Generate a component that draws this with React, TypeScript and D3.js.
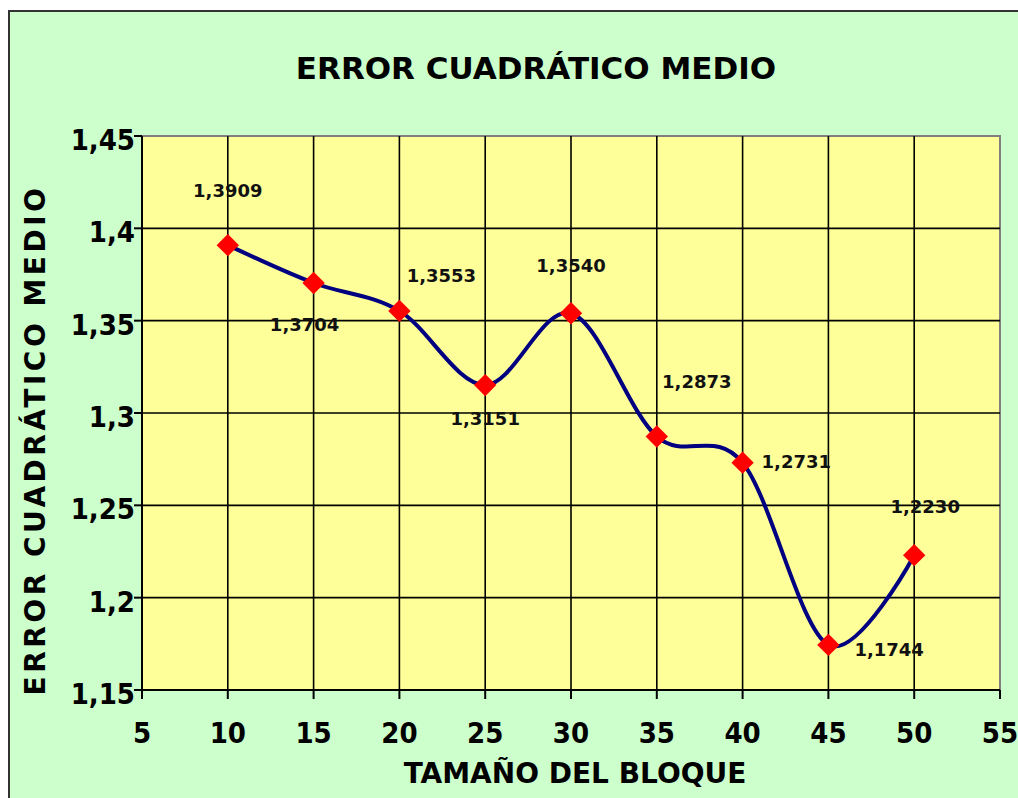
import React from 'react';
import * as d3 from 'd3';

// block size vs. mean squared error
const blockSizes = [10, 15, 20, 25, 30, 35, 40, 45, 50];
const mseValues = [1.3909, 1.3704, 1.3553, 1.3151, 1.354, 1.2873, 1.2731, 1.1744, 1.223];
const pointLabels = ['1,3909', '1,3704', '1,3553', '1,3151', '1,3540', '1,2873', '1,2731', '1,1744', '1,2230'];
const xTicks = [5, 10, 15, 20, 25, 30, 35, 40, 45, 50, 55];
const yTicks = [1.15, 1.2, 1.25, 1.3, 1.35, 1.4, 1.45];
const yTickLabels = ['1,15', '1,2', '1,25', '1,3', '1,35', '1,4', '1,45'];

// where Excel put each data label, relative to its point (dx, dy, anchor)
const labelPlacement: [number, number, string][] = [
    [0, -55, 'middle'],
    [-9, 42, 'middle'],
    [42, -35, 'middle'],
    [0, 33, 'middle'],
    [0, -48, 'middle'],
    [40, -55, 'middle'],
    [19, -1, 'start'],
    [26, 5, 'start'],
    [11, -49, 'middle'],
];

const title = 'ERROR CUADRÁTICO MEDIO';
const xTitle = 'TAMAÑO DEL BLOQUE';
const yTitle = 'ERROR CUADRÁTICO MEDIO';

const App = () => {
    const left = 142, right = 1000, top = 136, bottom = 690;
    const xScale = d3.scaleLinear().domain([5, 55]).range([left, right]);
    const yScale = d3.scaleLinear().domain([1.15, 1.45]).range([bottom, top]);

    const points: [number, number][] = blockSizes.map((b, i) => [xScale(b), yScale(mseValues[i])]);
    const line = d3.line().curve(d3.curveCardinal.tension(0))(points) || '';
    const diamond = d3.symbol().type(d3.symbolSquare).size(250)() || '';

    const sans = 'DejaVu Sans, Verdana, sans-serif';
    const tickFont = '"DejaVu Sans Condensed", "DejaVu Sans", sans-serif';

    return (
        <svg width={1018} height={798} style={{ position: 'absolute', left: 0, top: 0 }}>
            <rect x={0} y={0} width={1018} height={798} fill="#fff" />
            <rect x={9} y={11} width={1080} height={820} fill="#ccffcc" stroke="#333" strokeWidth={2} />
            <rect x={left} y={top} width={right - left} height={bottom - top} fill="#ffff99" stroke="#808080" strokeWidth={2} />

            {/* grid */}
            <g stroke="#000" strokeWidth={1.6}>
                {xTicks.slice(1, -1).map(t => (
                    <line key={'gx' + t} x1={xScale(t)} x2={xScale(t)} y1={top} y2={bottom} />
                ))}
                {yTicks.slice(1, -1).map(t => (
                    <line key={'gy' + t} x1={left} x2={right} y1={yScale(t)} y2={yScale(t)} />
                ))}
            </g>

            {/* axes */}
            <g stroke="#000" strokeWidth={2}>
                <line x1={left} x2={left} y1={top} y2={bottom} />
                <line x1={left} x2={right} y1={bottom} y2={bottom} />
                {yTicks.map(t => (
                    <line key={'ty' + t} x1={left - 8} x2={left} y1={yScale(t)} y2={yScale(t)} />
                ))}
                {xTicks.map(t => (
                    <line key={'tx' + t} x1={xScale(t)} x2={xScale(t)} y1={bottom} y2={bottom + 9} />
                ))}
            </g>
            <g fontFamily={tickFont} fontWeight="bold" fontSize={29} fill="#000">
                {yTicks.map((t, i) => (
                    <text key={'ly' + t} x={left - 7} y={yScale(t) + 4} textAnchor="end" dominantBaseline="central">
                        {yTickLabels[i]}
                    </text>
                ))}
                {xTicks.map(t => (
                    <text key={'lx' + t} x={xScale(t)} y={bottom + 53} textAnchor="middle">{t}</text>
                ))}
            </g>

            {/* series */}
            <path d={line} fill="none" stroke="#000080" strokeWidth={4} />
            {points.map(([x, y], i) => (
                <path key={'m' + i} d={diamond} transform={`translate(${x},${y}) rotate(45)`} fill="#ff0000" />
            ))}
            <g fontFamily={sans} fontWeight="bold" fontSize={18} fill="#111">
                {points.map(([x, y], i) => (
                    <text key={'dl' + i} x={x + labelPlacement[i][0]} y={y + labelPlacement[i][1]}
                        textAnchor={labelPlacement[i][2]} dominantBaseline="central">
                        {pointLabels[i]}
                    </text>
                ))}
            </g>

            {/* titles */}
            <text x={536} y={79} textAnchor="middle" fontFamily={sans} fontWeight="bold" fontSize={31}>{title}</text>
            <text x={575} y={783} textAnchor="middle" fontFamily={sans} fontWeight="bold" fontSize={28}>{xTitle}</text>
            <text transform={`translate(45,440) rotate(-90)`} textAnchor="middle" fontFamily={sans} fontWeight="bold"
                fontSize={28} letterSpacing={3.5}>{yTitle}</text>
        </svg>
    );
};

export default App;
